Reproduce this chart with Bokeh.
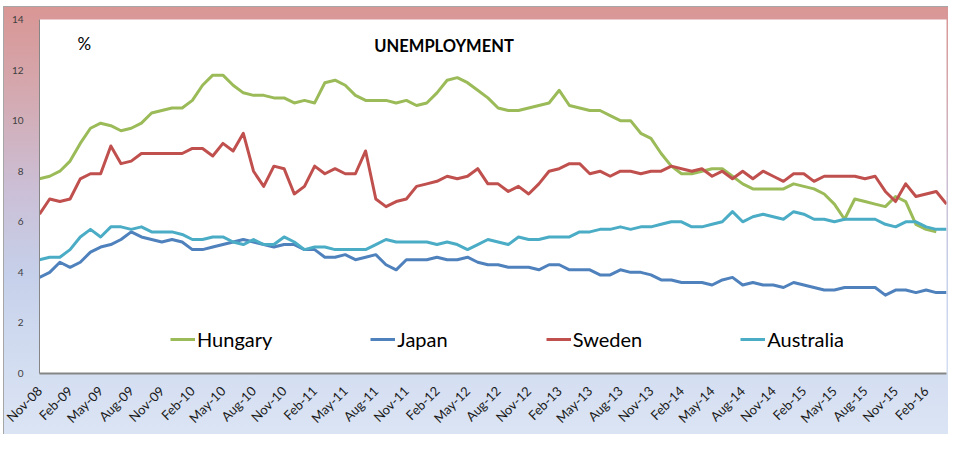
import math
from bokeh.plotting import figure
from bokeh.models import Range1d, FixedTicker, Label, Legend, LegendItem
from bokeh.embed import file_html
from bokeh.resources import INLINE

nan = float("nan")

tick_labels = ["Nov-08", "Feb-09", "May-09", "Aug-09", "Nov-09", "Feb-10", "May-10", "Aug-10",
               "Nov-10", "Feb-11", "May-11", "Aug-11", "Nov-11", "Feb-12", "May-12", "Aug-12",
               "Nov-12", "Feb-13", "May-13", "Aug-13", "Nov-13", "Feb-14", "May-14", "Aug-14",
               "Nov-14", "Feb-15", "May-15", "Aug-15", "Nov-15", "Feb-16"]

hungary = [7.7, 7.8, 8.0, 8.4, 9.1, 9.7, 9.9, 9.8, 9.6, 9.7,
           9.9, 10.3, 10.4, 10.5, 10.5, 10.8, 11.4, 11.8, 11.8, 11.4,
           11.1, 11.0, 11.0, 10.9, 10.9, 10.7, 10.8, 10.7, 11.5, 11.6,
           11.4, 11.0, 10.8, 10.8, 10.8, 10.7, 10.8, 10.6, 10.7, 11.1,
           11.6, 11.7, 11.5, 11.2, 10.9, 10.5, 10.4, 10.4, 10.5, 10.6,
           10.7, 11.2, 10.6, 10.5, 10.4, 10.4, 10.2, 10.0, 10.0, 9.5,
           9.3, 8.7, 8.2, 7.9, 7.9, 8.0, 8.1, 8.1, 7.8, 7.5,
           7.3, 7.3, 7.3, 7.3, 7.5, 7.4, 7.3, 7.1, 6.7, 6.1,
           6.9, 6.8, 6.7, 6.6, 7.0, 6.8, 5.9, 5.7, 5.6, nan]

japan = [3.8, 4.0, 4.4, 4.2, 4.4, 4.8, 5.0, 5.1, 5.3, 5.6,
         5.4, 5.3, 5.2, 5.3, 5.2, 4.9, 4.9, 5.0, 5.1, 5.2,
         5.3, 5.2, 5.1, 5.0, 5.1, 5.1, 4.9, 4.9, 4.6, 4.6,
         4.7, 4.5, 4.6, 4.7, 4.3, 4.1, 4.5, 4.5, 4.5, 4.6,
         4.5, 4.5, 4.6, 4.4, 4.3, 4.3, 4.2, 4.2, 4.2, 4.1,
         4.3, 4.3, 4.1, 4.1, 4.1, 3.9, 3.9, 4.1, 4.0, 4.0,
         3.9, 3.7, 3.7, 3.6, 3.6, 3.6, 3.5, 3.7, 3.8, 3.5,
         3.6, 3.5, 3.5, 3.4, 3.6, 3.5, 3.4, 3.3, 3.3, 3.4,
         3.4, 3.4, 3.4, 3.1, 3.3, 3.3, 3.2, 3.3, 3.2, 3.2]

sweden = [6.3, 6.9, 6.8, 6.9, 7.7, 7.9, 7.9, 9.0, 8.3, 8.4,
          8.7, 8.7, 8.7, 8.7, 8.7, 8.9, 8.9, 8.6, 9.1, 8.8,
          9.5, 8.0, 7.4, 8.2, 8.1, 7.1, 7.4, 8.2, 7.9, 8.1,
          7.9, 7.9, 8.8, 6.9, 6.6, 6.8, 6.9, 7.4, 7.5, 7.6,
          7.8, 7.7, 7.8, 8.1, 7.5, 7.5, 7.2, 7.4, 7.1, 7.5,
          8.0, 8.1, 8.3, 8.3, 7.9, 8.0, 7.8, 8.0, 8.0, 7.9,
          8.0, 8.0, 8.2, 8.1, 8.0, 8.1, 7.8, 8.0, 7.7, 8.0,
          7.7, 8.0, 7.8, 7.6, 7.9, 7.9, 7.6, 7.8, 7.8, 7.8,
          7.8, 7.7, 7.8, 7.2, 6.8, 7.5, 7.0, 7.1, 7.2, 6.7]

australia = [4.5, 4.6, 4.6, 4.9, 5.4, 5.7, 5.4, 5.8, 5.8, 5.7,
             5.8, 5.6, 5.6, 5.6, 5.5, 5.3, 5.3, 5.4, 5.4, 5.2,
             5.1, 5.3, 5.1, 5.1, 5.4, 5.2, 4.9, 5.0, 5.0, 4.9,
             4.9, 4.9, 4.9, 5.1, 5.3, 5.2, 5.2, 5.2, 5.2, 5.1,
             5.2, 5.1, 4.9, 5.1, 5.3, 5.2, 5.1, 5.4, 5.3, 5.3,
             5.4, 5.4, 5.4, 5.6, 5.6, 5.7, 5.7, 5.8, 5.7, 5.8,
             5.8, 5.9, 6.0, 6.0, 5.8, 5.8, 5.9, 6.0, 6.4, 6.0,
             6.2, 6.3, 6.2, 6.1, 6.4, 6.3, 6.1, 6.1, 6.0, 6.1,
             6.1, 6.1, 6.1, 5.9, 5.8, 6.0, 6.0, 5.8, 5.7, 5.7]

series_names = ["Hungary", "Japan", "Sweden", "Australia"]
series_colors = ["#9BBB59", "#4F81BD", "#C0504D", "#4BACC6"]
y_ticks = [0, 2, 4, 6, 8, 10, 12, 14]

months = list(range(len(japan)))
tick_pos = list(range(0, 3 * len(tick_labels), 3))

FONT = "Lato"

p = figure(width=948, height=434, output_backend="svg", toolbar_location=None,
           x_range=Range1d(0, len(months) - 1), y_range=Range1d(0, 14),
           min_border_left=39, min_border_right=2, min_border_top=19, min_border_bottom=60)
p.background_fill_color = "white"
p.border_fill_color = None
p.outline_line_color = None
p.styles = {
    "background-color": "white",
    "background-image": ("linear-gradient(#a6a6a6, #a6a6a6), linear-gradient(#a6a6a6, #a6a6a6), "
                         "linear-gradient(to bottom, #d99694 0%, #d4a9b0 20%, #cbbfd6 42%, "
                         "#c6d0ea 62%, #d3ddf1 82%, #dce5f4 100%)"),
    "background-position": "3px 6px, 3px 6px, 4px 7px",
    "background-size": "100% 1px, 1px 100%, 100% 100%",
    "background-repeat": "no-repeat",
}
p.xgrid.visible = False
p.ygrid.visible = False

p.yaxis.ticker = FixedTicker(ticks=y_ticks)
p.yaxis.major_tick_line_color = None
p.yaxis.minor_tick_line_color = None
p.yaxis.axis_line_color = "#868686"
p.yaxis.axis_line_width = 1
p.yaxis.major_label_text_font = FONT
p.yaxis.major_label_text_font_size = "10px"
p.yaxis.major_label_text_color = "#404040"
p.yaxis.major_label_standoff = 10

p.xaxis.ticker = FixedTicker(ticks=tick_pos)
p.xaxis.major_label_overrides = {pos: lab for pos, lab in zip(tick_pos, tick_labels)}
p.xaxis.major_label_orientation = math.pi / 4
p.xaxis.major_tick_line_color = None
p.xaxis.minor_tick_line_color = None
p.xaxis.axis_line_color = "#868686"
p.xaxis.axis_line_width = 2
p.xaxis.major_label_text_font = FONT
p.xaxis.major_label_text_font_size = "13px"
p.xaxis.major_label_text_color = "#1a1a1a"
p.xaxis.major_label_standoff = 9

items = []
for name, color, vals in zip(series_names, series_colors, [hungary, japan, sweden, australia]):
    r = p.line(months, vals, line_color=color, line_width=3, line_join="round")
    items.append(LegendItem(label=name, renderers=[r]))

legend = Legend(items=items, orientation="horizontal", location=(131, 22), spacing=98,
                glyph_width=25, glyph_height=20, label_standoff=2, padding=0, margin=0,
                background_fill_alpha=0, border_line_alpha=0,
                label_text_font=FONT, label_text_font_size="20px", label_text_color="#000000")
p.add_layout(legend, "center")

p.add_layout(Label(x=4.4, y=13.05, text="%", text_font=FONT, text_font_size="17px",
                   text_align="center", text_baseline="middle", text_color="#000000"))
p.add_layout(Label(x=39.7, y=12.97, text="UNEMPLOYMENT", text_font=FONT, text_font_size="16.5px",
                   text_font_style="bold", text_align="center", text_baseline="middle",
                   text_color="#000000"))

open("out.html", "w").write(file_html(p, INLINE))
